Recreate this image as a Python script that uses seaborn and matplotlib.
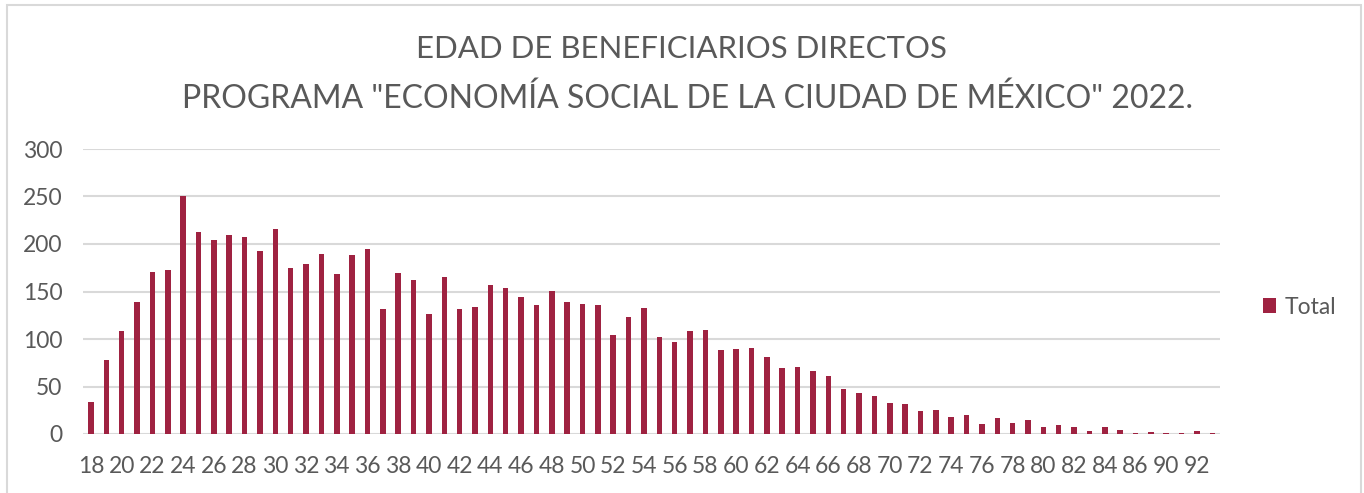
import matplotlib
matplotlib.use("Agg")
import matplotlib.pyplot as plt
import seaborn as sns
import pandas as pd
from matplotlib.patches import Rectangle, Patch

ages = [18, 19, 20, 21, 22, 23, 24, 25, 26, 27, 28, 29, 30, 31, 32, 33, 34, 35, 36, 37,
        38, 39, 40, 41, 42, 43, 44, 45, 46, 47, 48, 49, 50, 51, 52, 53, 54, 55, 56, 57,
        58, 59, 60, 61, 62, 63, 64, 65, 66, 67, 68, 69, 70, 71, 72, 73, 74, 75, 76, 77,
        78, 79, 80, 81, 82, 83, 84, 85, 86, 88, 90, 91, 92, 93]
totals = [34, 78, 108, 139, 171, 173, 251, 213, 204, 210, 207, 193, 216, 175, 179, 189, 168, 188, 195, 132,
          170, 162, 126, 165, 132, 134, 157, 154, 144, 136, 151, 139, 137, 136, 104, 123, 133, 102, 97, 108,
          109, 88, 90, 91, 81, 69, 71, 66, 61, 47, 43, 40, 33, 32, 24, 25, 18, 20, 11, 17,
          12, 15, 7, 9, 7, 3, 7, 4, 1, 2, 1, 1, 3, 1]
title_lines = ["EDAD DE BENEFICIARIOS DIRECTOS",
               'PROGRAMA "ECONOMÍA SOCIAL DE LA CIUDAD DE MÉXICO" 2022.']
series_name = "Total"
yticks = [0, 50, 100, 150, 200, 250, 300]

sns.set_theme(style="white")
plt.rcParams['font.family'] = ['Lato', 'DejaVu Sans']

BAR = "#9F2241"
GRID = "#D9D9D9"
TXT = "#595959"

df = pd.DataFrame({"edad": [str(a) for a in ages], "total": totals})

fig = plt.figure(figsize=(13.64, 4.93), dpi=100)
ax = fig.add_axes([83.3 / 1364, 1 - 434 / 493, (1220 - 83.3) / 1364, (434 - 149) / 493])

sns.barplot(data=df, x="edad", y="total", order=df["edad"], color=BAR,
            width=0.36, ax=ax, saturation=1, edgecolor="none", zorder=3)

ax.set_ylim(0, 300)
ax.set_xlim(-0.5, len(ages) - 0.5)
ax.set_yticks(yticks)
ax.set_yticklabels([str(v) for v in yticks])
idx = list(range(0, len(ages), 2))
ax.set_xticks(idx)
ax.set_xticklabels([str(ages[i]) for i in idx])
ax.tick_params(axis="both", length=0, labelsize=16.5, labelcolor=TXT)
ax.tick_params(axis="y", pad=15)
ax.tick_params(axis="x", pad=16)
ax.set_xlabel("")
ax.set_ylabel("")
for s in ax.spines.values():
    s.set_visible(False)
ax.yaxis.grid(True, color=GRID, linewidth=1.5, zorder=0)
ax.set_axisbelow(True)

fig.text(681 / 1364, 1 - 49 / 493, title_lines[0], ha="center", va="center",
         fontsize=22.4, color=TXT)
fig.text(688 / 1364, 1 - 99 / 493, title_lines[1], ha="center", va="center",
         fontsize=23, color=TXT)

fig.legend(handles=[Patch(facecolor=BAR, edgecolor="none", label=series_name)],
           loc="center left", bbox_to_anchor=(1242 / 1364, 1 - 307 / 493),
           frameon=False, fontsize=16.5, labelcolor=TXT, handlelength=0.6,
           handleheight=0.6, handletextpad=0.35)

fig.patches.append(Rectangle((7 / 1364, -0.05), (1361 - 7) / 1364, 1 - 5 / 493 + 0.05,
                             transform=fig.transFigure, fill=False, edgecolor=GRID,
                             linewidth=1.5))

fig.savefig("out.png", dpi=100)
